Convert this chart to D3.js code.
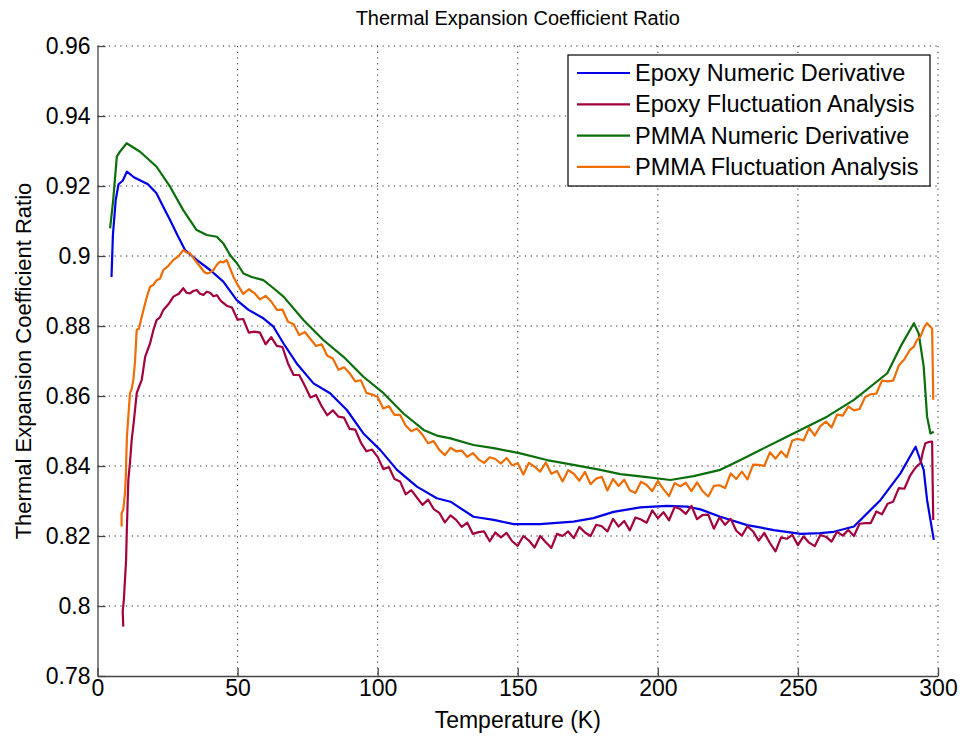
<!DOCTYPE html>
<html>
<head>
<meta charset="utf-8">
<script src="https://cdn.jsdelivr.net/npm/d3@7"></script>
<style>
html,body{margin:0;padding:0;background:#fff;}
svg{display:block;font-family:Arial,"Liberation Sans",Helvetica,sans-serif;}
</style>
</head>
<body>
<div id="chart"></div>
<script>
// ---------------- DATA ----------------
const chartTitle = "Thermal Expansion Coefficient Ratio";
const xLabel = "Temperature (K)";
const yLabel = "Thermal Expansion Coefficient Ratio";
const xTicks = [0, 50, 100, 150, 200, 250, 300];
const xTickLabels = ["0", "50", "100", "150", "200", "250", "300"];
const yTicks = [0.78, 0.80, 0.82, 0.84, 0.86, 0.88, 0.90, 0.92, 0.94, 0.96];
const yTickLabels = ["0.78", "0.8", "0.82", "0.84", "0.86", "0.88", "0.9", "0.92", "0.94", "0.96"];
const seriesNames = ["Epoxy Numeric Derivative", "Epoxy Fluctuation Analysis", "PMMA Numeric Derivative", "PMMA Fluctuation Analysis"];
const seriesColors = ["#0000e6", "#a3003f", "#0b6e0b", "#ee6d05"];

// Epoxy Numeric Derivative
const epoxyNumT = [5, 5.5, 6.5, 7.5, 9, 10.5, 13, 15.5, 18, 21, 23.5, 25.9, 28.5, 31.25, 35.4, 40.2, 44.9, 49.7, 53.9, 59.2, 62.8, 66.4, 71.1, 77.1, 83, 89, 94.9, 100.9, 106.9, 114, 121.1, 126, 134.2, 141.4, 148.5, 158, 169.9, 177, 184.2, 193.75, 203.3, 210.4, 215.2, 222.3, 231.9, 241.4, 251, 258, 262.8, 270, 279.5, 286.6, 292, 294.9, 296.1, 298.5];
const epoxyNumV = [0.894, 0.906, 0.916, 0.9205, 0.9215, 0.9241, 0.9225, 0.9215, 0.9205, 0.918, 0.914, 0.9103, 0.906, 0.9017, 0.8989, 0.896, 0.8927, 0.8874, 0.8846, 0.8822, 0.8798, 0.875, 0.8693, 0.8636, 0.8608, 0.856, 0.8493, 0.8446, 0.8389, 0.8341, 0.8308, 0.8298, 0.8255, 0.8246, 0.8234, 0.8234, 0.8241, 0.8251, 0.8269, 0.8282, 0.8286, 0.8284, 0.8276, 0.8255, 0.8231, 0.8217, 0.8206, 0.8208, 0.8212, 0.8227, 0.8303, 0.8379, 0.8455, 0.8389, 0.8303, 0.8189];

// Epoxy Fluctuation Analysis
const epoxyFluctT = [9.2, 9.0, 9.4, 9.8, 10.2, 10.4, 10.7, 11, 11.6, 12.2, 13, 14, 15, 15.8, 17, 18.75, 20, 21.1, 22.3, 23.5, 25.3, 27.1, 29, 30.6, 31.8, 33, 34.2, 35.4, 36.6, 37.8, 39, 40.2, 41.4, 42.6, 44, 46.1,
  48, 50, 52, 54, 56, 58, 60, 62, 64, 66, 68, 70, 72, 74, 76, 78, 80, 82, 84, 86, 88, 90, 92, 94, 96, 98,
  100, 102, 104, 106, 108, 110, 112, 114, 116, 118, 120, 122, 124, 126, 128, 130, 132, 134, 136, 138, 140, 142, 144, 146, 148,
  150, 152, 154, 156, 158, 160, 162, 164, 166, 168, 170, 172, 174, 176, 178, 180, 182, 184, 186, 188, 190, 192, 194, 196, 198,
  200, 202, 204, 206, 208, 210, 212, 214, 216, 218, 220, 222, 224, 226, 228, 230, 232, 234, 236, 238, 240, 242, 244, 246, 248,
  250, 252, 254, 256, 258, 260, 262, 264, 266, 268, 270, 272, 274, 276, 278, 280, 282, 284, 286, 288, 290,
  291.4, 292.5, 293.75, 294.6, 295.5, 296.5, 297.9, 298.1, 298.3];
const epoxyFluctV = [0.7941, 0.7985, 0.8017, 0.8074, 0.8130, 0.8198, 0.8280, 0.8360, 0.8410, 0.8474, 0.8530, 0.8608, 0.8630, 0.8646, 0.8712, 0.8750, 0.8790, 0.8817, 0.8825, 0.8846, 0.8862, 0.8884, 0.8892, 0.8908, 0.8895, 0.8893, 0.8900, 0.8903, 0.8892, 0.8889, 0.8898, 0.8895, 0.8885, 0.8888, 0.8872, 0.8858,
  0.8853, 0.8818, 0.8820, 0.8781, 0.8784, 0.8781, 0.8748, 0.8768, 0.8743, 0.8740, 0.8693, 0.8660, 0.8660, 0.8629, 0.8596, 0.8603, 0.8571, 0.8545, 0.8559, 0.8541, 0.8538, 0.8506, 0.8504, 0.8467, 0.8442, 0.8447,
  0.8426, 0.8391, 0.8397, 0.8363, 0.8356, 0.8319, 0.8331, 0.8310, 0.8289, 0.8304, 0.8277, 0.8266, 0.8239, 0.8259, 0.8246, 0.8226, 0.8238, 0.8206, 0.8211, 0.8213, 0.8185, 0.8210, 0.8196, 0.8209, 0.8185,
  0.8172, 0.8200, 0.8187, 0.8167, 0.8200, 0.8182, 0.8166, 0.8206, 0.8200, 0.8213, 0.8194, 0.8226, 0.8210, 0.8200, 0.8232, 0.8228, 0.8213, 0.8249, 0.8227, 0.8243, 0.8216, 0.8253, 0.8247, 0.8238, 0.8273,
  0.8251, 0.8268, 0.8245, 0.8283, 0.8277, 0.8263, 0.8286, 0.8248, 0.8260, 0.8261, 0.8221, 0.8253, 0.8232, 0.8249, 0.8215, 0.8201, 0.8228, 0.8213, 0.8187, 0.8209, 0.8180, 0.8156, 0.8196, 0.8192, 0.8203,
  0.8174, 0.8199, 0.8181, 0.8171, 0.8203, 0.8198, 0.8184, 0.8212, 0.8201, 0.8217, 0.8200, 0.8235, 0.8237, 0.8237, 0.8270, 0.8262, 0.8292, 0.8298, 0.8337, 0.8335, 0.8372,
  0.8389, 0.8400, 0.8408, 0.8440, 0.8465, 0.8468, 0.8470, 0.8350, 0.8246];

// PMMA Numeric Derivative
const pmmaNumT = [4.5, 5.6, 6.9, 8, 10.4, 15.2, 21.1, 25.9, 30.6, 35.4, 39, 42.6, 44.9, 47.3, 49.7, 52.1, 55, 59.2, 62.5, 66.4, 73.5, 80.6, 87.8, 94.9, 102.1, 109.2, 116.4, 121.1, 126, 134.2, 141.4, 150.9, 160.4, 169.9, 179.5, 186.6, 196.1, 204.5, 212.8, 222.3, 229.5, 236.6, 243.75, 250.9, 260.4, 270, 281.9, 286.6, 291.4, 293.1, 294.9, 296.1, 297.3, 298.5];
const pmmaNumV = [0.9079, 0.9160, 0.9284, 0.9298, 0.9322, 0.9298, 0.9255, 0.9198, 0.9131, 0.9074, 0.9060, 0.9055, 0.9036, 0.9003, 0.8980, 0.8950, 0.8940, 0.8931, 0.8910, 0.8884, 0.8817, 0.8760, 0.8712, 0.8655, 0.8608, 0.8550, 0.8503, 0.8487, 0.8479, 0.8460, 0.8451, 0.8436, 0.8417, 0.8403, 0.8389, 0.8377, 0.8368, 0.8360, 0.8371, 0.8389, 0.8417, 0.8446, 0.8474, 0.8503, 0.8541, 0.8589, 0.8665, 0.8741, 0.8808, 0.8779, 0.8684, 0.8541, 0.8493, 0.8498];

// PMMA Fluctuation Analysis
const pmmaFluctT = [8.6, 8.6, 9.2, 9.8, 10.1, 10.3, 10.5, 11, 11.6, 12.2, 12.8, 13.4, 14, 14.8, 15.6, 16.4, 17.5, 18.75, 20, 21.1, 22.3, 23.5, 25.3, 27.1, 29, 30.6, 31.8, 33, 34.8, 36.6, 38, 39, 40.2, 41.4, 42.6, 43.75, 45, 46.1, 47.3, 48.5,
  50, 52, 54, 56, 58, 60, 62, 64, 66, 68, 70, 72, 74, 76, 78, 80, 82, 84, 86, 88, 90, 92, 94, 96, 98,
  100, 102, 104, 106, 108, 110, 112, 114, 116, 118, 120, 122, 124, 126, 128, 130, 132, 134, 136, 138, 140, 142, 144, 146, 148,
  150, 152, 154, 156, 158, 160, 162, 164, 166, 168, 170, 172, 174, 176, 178, 180, 182, 184, 186, 188, 190, 192, 194, 196, 198,
  200, 202, 204, 206, 208, 210, 212, 214, 216, 218, 220, 222, 224, 226, 228, 230, 232, 234, 236, 238, 240, 242, 244, 246, 248,
  250, 252, 254, 256, 258, 260, 262, 264, 266, 268, 270, 272, 274, 276, 278, 280, 282, 284, 286, 288, 290,
  291.4, 292.5, 293.75, 295, 296.1, 297, 297.9, 298.1, 298.3];
const pmmaFluctV = [0.8227, 0.8265, 0.8275, 0.8322, 0.8369, 0.8430, 0.8484, 0.8540, 0.8608, 0.8620, 0.8646, 0.8700, 0.8789, 0.8792, 0.8820, 0.8846, 0.8880, 0.8912, 0.8918, 0.8931, 0.8935, 0.8960, 0.8972, 0.8989, 0.9000, 0.9017, 0.9010, 0.9008, 0.8988, 0.8970, 0.8955, 0.8950, 0.8953, 0.8960, 0.8975, 0.8984, 0.8982, 0.8989, 0.8965, 0.8941,
  0.8918, 0.8892, 0.8905, 0.8894, 0.8876, 0.8886, 0.8870, 0.8846, 0.8847, 0.8812, 0.8805, 0.8774, 0.8783, 0.8763, 0.8743, 0.8748, 0.8715, 0.8707, 0.8675, 0.8682, 0.8665, 0.8642, 0.8645, 0.8609, 0.8604,
  0.8597, 0.8564, 0.8571, 0.8546, 0.8546, 0.8516, 0.8499, 0.8507, 0.8489, 0.8465, 0.8471, 0.8446, 0.8431, 0.8452, 0.8442, 0.8444, 0.8426, 0.8437, 0.8419, 0.8409, 0.8425, 0.8420, 0.8407, 0.8423, 0.8402,
  0.8408, 0.8376, 0.8409, 0.8398, 0.8384, 0.8410, 0.8378, 0.8386, 0.8356, 0.8388, 0.8378, 0.8358, 0.8383, 0.8348, 0.8364, 0.8369, 0.8330, 0.8363, 0.8343, 0.8361, 0.8331, 0.8323, 0.8355, 0.8346, 0.8328,
  0.8357, 0.8334, 0.8314, 0.8351, 0.8342, 0.8352, 0.8328, 0.8353, 0.8328, 0.8313, 0.8343, 0.8345, 0.8337, 0.8379, 0.8363, 0.8384, 0.8362, 0.8404, 0.8403, 0.8400, 0.8439, 0.8421, 0.8442, 0.8425, 0.8473,
  0.8478, 0.8473, 0.8509, 0.8487, 0.8514, 0.8527, 0.8510, 0.8547, 0.8544, 0.8570, 0.8559, 0.8563, 0.8597, 0.8605, 0.8607, 0.8644, 0.8642, 0.8644, 0.8687, 0.8705, 0.8732,
  0.8741, 0.8760, 0.8770, 0.8795, 0.8808, 0.8800, 0.8793, 0.8700, 0.8589];

const seriesT = [epoxyNumT, epoxyFluctT, pmmaNumT, pmmaFluctT];
const seriesV = [epoxyNumV, epoxyFluctV, pmmaNumV, pmmaFluctV];

// ---------------- LAYOUT ----------------
const W = 960, H = 738;
const margin = {left: 97.5, right: 22, top: 46, bottom: 62};
const iw = W - margin.left - margin.right;
const ih = H - margin.top - margin.bottom;

const svg = d3.select("#chart").append("svg").attr("width", W).attr("height", H);
const g = svg.append("g").attr("transform", `translate(${margin.left},${margin.top})`);

const x = d3.scaleLinear().domain([0, 300]).range([0, iw]);
const y = d3.scaleLinear().domain([0.78, 0.96]).range([ih, 0]);

// grid
const grid = g.append("g").attr("class", "grid");
grid.selectAll("line.gx").data(xTicks.filter(d => d !== 0)).enter().append("line")
  .attr("x1", d => x(d)).attr("x2", d => x(d)).attr("y1", 0).attr("y2", ih)
  .attr("stroke", "#222").attr("stroke-width", 1).attr("stroke-dasharray", "1.2,4.5");
grid.selectAll("line.gy").data(yTicks.filter(d => d !== 0.78)).enter().append("line")
  .attr("y1", d => y(d)).attr("y2", d => y(d)).attr("x1", 0).attr("x2", iw)
  .attr("stroke", "#222").attr("stroke-width", 1).attr("stroke-dasharray", "1.2,4.5");

// lines
const lineGen = d3.line().x(d => x(d[0])).y(d => y(d[1]));
seriesNames.forEach((name, i) => {
  const pts = seriesT[i].map((t, j) => [t, seriesV[i][j]]);
  g.append("path").datum(pts)
    .attr("fill", "none").attr("stroke", seriesColors[i])
    .attr("stroke-width", 2.2).attr("stroke-linejoin", "round")
    .attr("d", lineGen);
});

// axes
const xAxis = d3.axisBottom(x).tickValues(xTicks).tickFormat((d, i) => xTickLabels[i]).tickSizeInner(-8).tickSizeOuter(0).tickPadding(4);
const yAxis = d3.axisLeft(y).tickValues(yTicks).tickFormat((d, i) => yTickLabels[i]).tickSizeInner(-8).tickSizeOuter(0).tickPadding(7);
const gx = g.append("g").attr("transform", `translate(0,${ih})`).call(xAxis);
const gy = g.append("g").call(yAxis);
[gx, gy].forEach(a => {
  a.select(".domain").attr("stroke", "#444").attr("stroke-width", 1.3);
  a.selectAll(".tick line").attr("stroke", "#444").attr("stroke-width", 1.3);
  a.selectAll(".tick text").attr("fill", "#000").style("font-size", "23px").style("font-family", "Arial, 'Liberation Sans', sans-serif");
});

// title & labels
svg.append("text").attr("x", margin.left + iw / 2).attr("y", 25).attr("text-anchor", "middle")
  .style("font-size", "20px").attr("fill", "#000").text(chartTitle);
svg.append("text").attr("x", margin.left + iw / 2).attr("y", 728).attr("text-anchor", "middle")
  .style("font-size", "23px").attr("fill", "#000").text(xLabel);
svg.append("text").attr("transform", `translate(31,${margin.top + ih / 2}) rotate(-90)`).attr("text-anchor", "middle")
  .style("font-size", "22px").attr("fill", "#000").text(yLabel);

// legend
const lg = svg.append("g").attr("transform", "translate(568,55)");
lg.append("rect").attr("width", 362).attr("height", 131).attr("fill", "#fff").attr("stroke", "#000").attr("stroke-width", 1.2);
seriesNames.forEach((name, i) => {
  const yy = 18 + i * 31.3;
  lg.append("line").attr("x1", 9).attr("x2", 62).attr("y1", yy).attr("y2", yy)
    .attr("stroke", seriesColors[i]).attr("stroke-width", 2.2);
  lg.append("text").attr("x", 67).attr("y", yy + 8).style("font-size", "23.5px").attr("fill", "#000").text(name);
});
</script>
</body>
</html>
